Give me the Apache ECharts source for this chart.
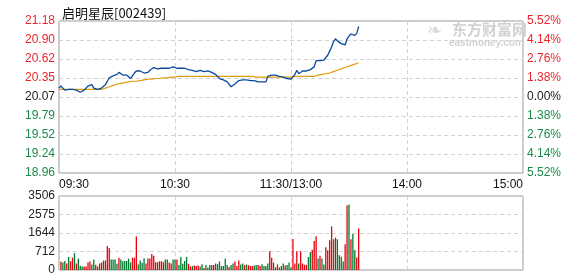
<!DOCTYPE html>
<html>
<head>
<meta charset="utf-8">
<script src="https://cdn.jsdelivr.net/npm/echarts@6/dist/echarts.min.js"></script>
<style>html,body{margin:0;padding:0;background:#fff;}#c{width:578px;height:276px;}</style>
</head>
<body>
<div id="c"></div>
<script>
const timeLabels = ['09:30', '10:30', '11:30/13:00', '14:00', '15:00'];
const priceLabels = ['18.96', '19.24', '19.52', '19.79', '20.07', '20.35', '20.62', '20.90', '21.18'];
const pctLabels = ['5.52%', '4.14%', '2.76%', '1.38%', '0.00%', '1.38%', '2.76%', '4.14%', '5.52%'];
const volLabels = ['0', '712', '1644', '2575', '3506'];

const price = [
  20.20,20.23,20.20,20.17,20.19,20.18,20.16,20.18,20.20,20.17,
  20.15,20.14,20.13,20.17,20.20,20.23,20.24,20.25,20.20,20.18,
  20.18,20.19,20.20,20.20,20.25,20.30,20.35,20.37,20.38,20.37,
  20.40,20.43,20.41,20.39,20.40,20.39,20.37,20.34,20.38,20.42,
  20.45,20.46,20.45,20.44,20.42,20.40,20.43,20.46,20.48,20.50,
  20.49,20.48,20.47,20.49,20.50,20.49,20.49,20.49,20.50,20.51,
  20.50,20.49,20.49,20.49,20.49,20.49,20.49,20.47,20.45,20.46,
  20.45,20.44,20.45,20.46,20.45,20.44,20.44,20.45,20.44,20.43,
  20.42,20.40,20.37,20.34,20.33,20.32,20.30,20.29,20.27,20.22,
  20.24,20.26,20.28,20.31,20.32,20.32,20.31,20.32,20.32,20.31,
  20.30,20.31,20.30,20.29,20.29,20.29,20.29,20.29,20.37,20.39,
  20.39,20.39,20.39,20.38,20.37,20.37,20.36,20.35,20.34,20.33,
  20.33,20.34,20.40,20.46,20.41,20.43,20.45,20.44,20.45,20.46,
  20.47,20.48,20.51,20.60,20.60,20.60,20.60,20.61,20.62,20.68,
  20.74,20.80,20.88,20.92,20.89,20.87,20.85,20.84,20.83,20.92,
  20.96,20.99,20.98,20.97,21.00,21.10
];

const avgPrice = [
  20.18,20.18,20.18,20.18,20.18,20.18,20.18,20.18,20.18,20.18,
  20.18,20.18,20.18,20.18,20.18,20.18,20.18,20.18,20.18,20.18,
  20.18,20.18,20.18,20.19,20.20,20.21,20.22,20.23,20.24,20.25,
  20.26,20.26,20.27,20.27,20.28,20.28,20.29,20.29,20.30,20.30,
  20.30,20.31,20.31,20.32,20.32,20.32,20.33,20.33,20.33,20.33,
  20.34,20.34,20.34,20.34,20.35,20.35,20.35,20.35,20.36,20.36,
  20.36,20.37,20.37,20.37,20.37,20.37,20.37,20.37,20.37,20.37,
  20.37,20.37,20.37,20.37,20.37,20.37,20.37,20.37,20.37,20.37,
  20.37,20.37,20.37,20.37,20.37,20.37,20.37,20.37,20.37,20.37,
  20.37,20.37,20.37,20.37,20.37,20.37,20.37,20.37,20.37,20.37,
  20.37,20.36,20.36,20.36,20.36,20.36,20.36,20.36,20.36,20.36,
  20.36,20.36,20.36,20.36,20.36,20.36,20.36,20.36,20.36,20.36,
  20.36,20.36,20.37,20.37,20.37,20.37,20.37,20.37,20.37,20.37,
  20.37,20.37,20.37,20.38,20.39,20.39,20.40,20.40,20.41,20.41,
  20.42,20.43,20.44,20.45,20.46,20.47,20.48,20.49,20.50,20.51,
  20.52,20.53,20.54,20.55,20.56,20.57
];

const volume = [
  385,354,431,308,616,416,585,801,308,539,
  200,169,169,169,354,400,262,493,246,169,
  308,354,447,447,1140,1047,493,493,493,293,
  585,493,416,431,431,539,354,585,585,1586,
  262,447,339,554,308,539,539,755,678,370,
  370,416,416,370,493,493,354,308,493,493,
  493,231,616,293,431,616,293,169,185,216,
  185,216,169,277,92,231,
  123,231,231,231,308,277,400,185,185,539,
  231,139,231,308,400,185,447,262,308,231,
  262,231,185,185,216,231,231,185,277,185,
  185,308,893,585,354,123,262,123,185,308,
  216,231,354,123,1463,308,893,308,893,308,
  246,246,616,847,955,1371,1602,539,678,539,
  262,1080,939,1409,2066,1455,1534,1455,704,626,
  407,1221,3052,3099,1455,1722,939,595,1972
];

const volumeDir = [
  'r','g','g','r','g','r','r','g','r','g',
  'g','g','r','r','r','r','g','g','r','g',
  'r','r','g','r','r','r','g','g','g','g',
  'r','g','g','g','g','g','g','r','r','r',
  'g','g','g','g','r','r','r','r','r','r',
  'g','r','r','r','g','g','r','r','g','g',
  'r','g','g','g','g','g','r','r','g','r',
  'r','r','g','g','r','g',
  'g','g','r','r','g','g','g','g','g','g',
  'g','r','g','g','r','r','r','g','g','r',
  'g','r','r','r','g','g','r','r','g','g',
  'g','g','r','r','g','r','r','g','g','g',
  'r','g','g','g','r','r','r','g','r','r',
  'r','r','g','g','r','r','r','g','r','g',
  'g','r','r','r','r','g','r','g','g','g',
  'g','r','r','g','r','g','g','r','r'
];

const RED = '#e8000e';
const GREEN = '#007a2c';
const PMIN = 18.96, PMAX = 21.18, PINT = 0.2775;
const VMAX = 3506;

function pIdx(v) { return Math.round((v - PMIN) / PINT); }
function pColor(v) { const i = pIdx(v); return i > 4 ? '#e8262b' : (i < 4 ? '#1c8a4a' : '#222'); }

const gridLine = { show: true, lineStyle: { color: '#d3d3d3', type: [4, 3], width: 1 } };
const labelFont = { fontFamily: 'Liberation Sans', fontSize: 12 };

const chart = echarts.init(document.getElementById('c'), null, { renderer: 'canvas' });
chart.setOption({
  animation: false,
  backgroundColor: '#fff',
  title: {
    text: '启明星辰[002439]', left: 57, top: 2,
    textStyle: { fontSize: 13, fontWeight: 'normal', color: '#111', fontFamily: 'Noto Sans CJK SC' }
  },
  graphic: [
    { type: 'text', left: 452, top: 22, z: 0, style: { text: '东方财富网', fill: '#d2d2d2', font: 'bold 15px "Noto Sans CJK SC"' } },
    { type: 'text', left: 449, top: 38, z: 0, style: { text: 'eastmoney.com', fill: '#d2d2d2', font: 'bold 10px "Liberation Sans"' } },
    { type: 'text', left: 427, top: 22, z: 0, style: { text: '❧', fill: '#dadada', font: 'bold 18px "DejaVu Sans"' } }
  ],
  grid: [
    { left: 59, top: 21, width: 464, height: 152, show: true, borderColor: '#999', borderWidth: 1, backgroundColor: 'transparent' },
    { left: 59, top: 196, width: 464, height: 76, show: true, borderColor: '#999', borderWidth: 1, backgroundColor: 'transparent' }
  ],
  xAxis: [
    {
      type: 'value', gridIndex: 0, min: 0, max: 240, interval: 60,
      axisLine: { show: false }, axisTick: { show: false }, splitLine: gridLine,
      axisLabel: {
        show: true, margin: 6, color: '#111', ...labelFont,
        alignMinLabel: 'left', alignMaxLabel: 'right',
        formatter: v => timeLabels[Math.round(v / 60)]
      }
    },
    {
      type: 'value', gridIndex: 1, min: 0, max: 240, interval: 60,
      axisLine: { show: false }, axisTick: { show: false }, splitLine: gridLine,
      axisLabel: { show: false }
    }
  ],
  yAxis: [
    {
      type: 'value', gridIndex: 0, min: PMIN, max: PMAX, interval: PINT, position: 'left',
      axisLine: { show: false }, axisTick: { show: false }, splitLine: gridLine,
      axisLabel: { margin: 4, ...labelFont, color: v => pColor(v), formatter: v => priceLabels[pIdx(v)] }
    },
    {
      type: 'value', gridIndex: 0, min: PMIN, max: PMAX, interval: PINT, position: 'right',
      axisLine: { show: false }, axisTick: { show: false }, splitLine: { show: false },
      axisLabel: { margin: 4, ...labelFont, color: v => pColor(v), formatter: v => pctLabels[8 - pIdx(v)] }
    },
    {
      type: 'value', gridIndex: 1, min: 0, max: VMAX, interval: VMAX / 4, position: 'left',
      axisLine: { show: false }, axisTick: { show: false }, splitLine: gridLine,
      axisLabel: { margin: 4, ...labelFont, color: '#222', formatter: v => volLabels[Math.round(v / (VMAX / 4))] }
    }
  ],
  series: [
    {
      type: 'line', xAxisIndex: 0, yAxisIndex: 0, showSymbol: false, symbol: 'none',
      data: avgPrice.map((p, i) => [i, p]),
      lineStyle: { color: '#e09d10', width: 1.2 }, itemStyle: { color: '#e09d10' }, z: 3
    },
    {
      type: 'line', xAxisIndex: 0, yAxisIndex: 0, showSymbol: false, symbol: 'none',
      data: price.map((p, i) => [i, p]),
      lineStyle: { color: '#0a4a9e', width: 1.3 }, itemStyle: { color: '#0a4a9e' }, z: 4
    },
    {
      type: 'bar', xAxisIndex: 1, yAxisIndex: 2, barWidth: 1.3,
      data: volume.map((v, i) => ({ value: [i + 1, v], itemStyle: { color: volumeDir[i] === 'r' ? RED : GREEN } }))
    }
  ]
});
</script>
</body>
</html>
